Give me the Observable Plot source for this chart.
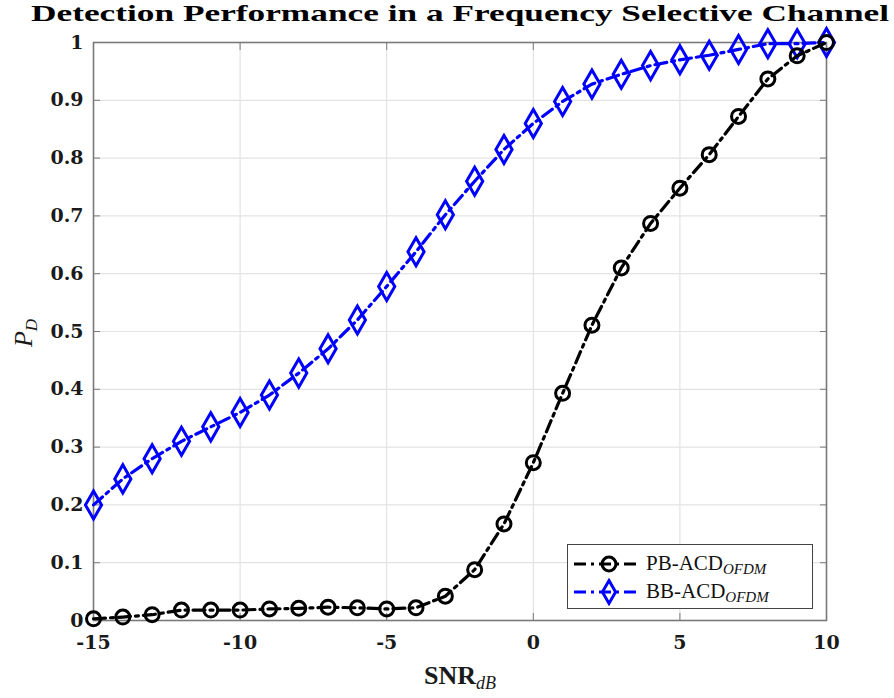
<!DOCTYPE html>
<html>
<head>
<meta charset="utf-8">
<script src="https://cdn.jsdelivr.net/npm/d3@7"></script>
<script src="https://cdn.jsdelivr.net/npm/@observablehq/plot@0.6"></script>
<style>
  html, body { margin: 0; padding: 0; background: #fff; }
  #wrap { position: relative; width: 894px; height: 698px; }
  #legend {
    position: absolute; left: 567px; top: 544px; width: 246px; height: 65px;
    border: 1.5px solid #444; background: #fff; box-sizing: border-box;
    font-family: "Liberation Serif", serif; font-size: 21px; color: #111;
  }
  .lrow { position: absolute; left: 0; height: 28px; display: flex; align-items: center; }
  .lrow svg { margin-left: 4px; }
  .lrow span { margin-left: 6px; white-space: nowrap; }
  .lrow sub { font-style: italic; font-size: 15px; vertical-align: -4px; }
</style>
</head>
<body>
<div id="wrap"></div>
<script>
const snr = [-15,-14,-13,-12,-11,-10,-9,-8,-7,-6,-5,-4,-3,-2,-1,0,1,2,3,4,5,6,7,8,9,10];
const pbACD = [0.003,0.006,0.010,0.018,0.018,0.018,0.020,0.021,0.023,0.022,0.020,0.022,0.042,0.088,0.167,0.273,0.393,0.511,0.610,0.687,0.748,0.806,0.872,0.937,0.977,1.000];
const bbACD = [0.200,0.245,0.280,0.310,0.335,0.360,0.390,0.428,0.470,0.520,0.578,0.638,0.702,0.760,0.815,0.860,0.898,0.928,0.945,0.960,0.970,0.978,0.988,0.998,0.998,1.000];
const xTicks = [-15,-10,-5,0,5,10];
const yTicks = [0,0.1,0.2,0.3,0.4,0.5,0.6,0.7,0.8,0.9,1];
const seriesNames = ["PB-ACD", "BB-ACD"];
const titleText = "Detection Performance in a Frequency Selective Channel";

const pb = snr.map((x, i) => ({x, y: pbACD[i]}));
const bb = snr.map((x, i) => ({x, y: bbACD[i]}));

const axisColor = "#7a7a7a";
const fmt = d => String(d);
const dash = "12,5,3,5";
const tickFont = "DejaVu Serif, serif";

const chart = Plot.plot({
  width: 894,
  height: 698,
  marginTop: 42,
  marginRight: 68,
  marginBottom: 78,
  marginLeft: 93,
  style: {fontFamily: tickFont, fontSize: "19px", fontWeight: "bold", color: "#1a1a1a", background: "#fff", overflow: "visible"},
  x: {domain: [-15, 10], ticks: xTicks},
  y: {domain: [0, 1], ticks: yTicks},
  marks: [
    Plot.gridX(xTicks, {stroke: "#e3e3e3", strokeOpacity: 1, strokeWidth: 1.2}),
    Plot.gridY(yTicks, {stroke: "#e3e3e3", strokeOpacity: 1, strokeWidth: 1.2}),
    Plot.frame({stroke: axisColor, strokeWidth: 1.6}),
    Plot.axisX(xTicks, {anchor: "bottom", tickSize: -7, tickPadding: 22, tickFormat: fmt, label: null, stroke: axisColor, fill: "#1a1a1a", fontWeight: "bold"}),
    Plot.axisX(xTicks, {anchor: "top", tickSize: -7, tickFormat: () => "", label: null, stroke: axisColor}),
    Plot.axisY(yTicks, {anchor: "left", tickSize: -7, tickPadding: 17, tickFormat: fmt, label: null, stroke: axisColor, fill: "#1a1a1a", fontWeight: "bold"}),
    Plot.axisY(yTicks, {anchor: "right", tickSize: -7, tickFormat: () => "", label: null, stroke: axisColor}),
    Plot.line(bb, {x: "x", y: "y", stroke: "#0000ff", strokeWidth: 3.2, strokeDasharray: dash}),
    Plot.dot(bb, {x: "x", y: "y", symbol: "diamond", r: 8.5, stroke: "#0000ff", strokeWidth: 3, fill: "none"}),
    Plot.line(pb, {x: "x", y: "y", stroke: "#000", strokeWidth: 3.2, strokeDasharray: dash}),
    Plot.dot(pb, {x: "x", y: "y", symbol: "circle", r: 7, stroke: "#000", strokeWidth: 3, fill: "none"}),
    Plot.text([titleText], {frameAnchor: "top", dy: -29, fontSize: 23, fontWeight: "bold", fill: "#000", lineAnchor: "middle", fontFamily: "Liberation Serif, serif"})
  ]
});

const svg = d3.select(chart);
svg.selectAll("text").filter(function() { return this.textContent === titleText; })
  .attr("textLength", 858).attr("lengthAdjust", "spacingAndGlyphs");

// x-axis label SNR_dB
const xl = svg.append("text")
  .attr("x", 460).attr("y", 684).attr("text-anchor", "middle")
  .style("font-family", "Liberation Serif, serif").style("font-size", "26px").attr("fill", "#1a1a1a");
xl.append("tspan").attr("font-weight", "bold").text("SNR");
xl.append("tspan").attr("font-style", "italic").attr("font-weight", "normal").attr("font-size", "18px").attr("dy", 5).text("dB");

// y-axis label P_D
const yl = svg.append("text")
  .attr("transform", "translate(32,333) rotate(-90)").attr("text-anchor", "middle")
  .style("font-family", "Liberation Serif, serif").style("font-size", "26px").style("font-weight", "normal").attr("fill", "#1a1a1a");
yl.append("tspan").attr("font-style", "italic").text("P");
yl.append("tspan").attr("font-style", "italic").attr("font-size", "17px").attr("dy", 5).text("D");

const wrap = document.getElementById("wrap");
wrap.appendChild(chart);

// legend
const legend = document.createElement("div");
legend.id = "legend";
const rows = [
  {name: seriesNames[0], color: "#000", symbol: d3.symbolCircle, size: 150, top: 5},
  {name: seriesNames[1], color: "#0000ff", symbol: d3.symbolDiamond, size: 150, top: 33}
];
rows.forEach(r => {
  const row = document.createElement("div");
  row.className = "lrow";
  row.style.top = r.top + "px";
  const s = d3.create("svg").attr("width", 68).attr("height", 28);
  s.append("line").attr("x1", 2).attr("x2", 68).attr("y1", 14).attr("y2", 14)
    .attr("stroke", r.color).attr("stroke-width", 3.2).attr("stroke-dasharray", dash);
  s.append("path").attr("d", d3.symbol(r.symbol, r.size)()).attr("transform", "translate(37,14)")
    .attr("fill", "none").attr("stroke", r.color).attr("stroke-width", 3);
  row.appendChild(s.node());
  const t = document.createElement("span");
  t.innerHTML = r.name + "<sub>OFDM</sub>";
  row.appendChild(t);
  legend.appendChild(row);
});
wrap.appendChild(legend);
</script>
</body>
</html>
